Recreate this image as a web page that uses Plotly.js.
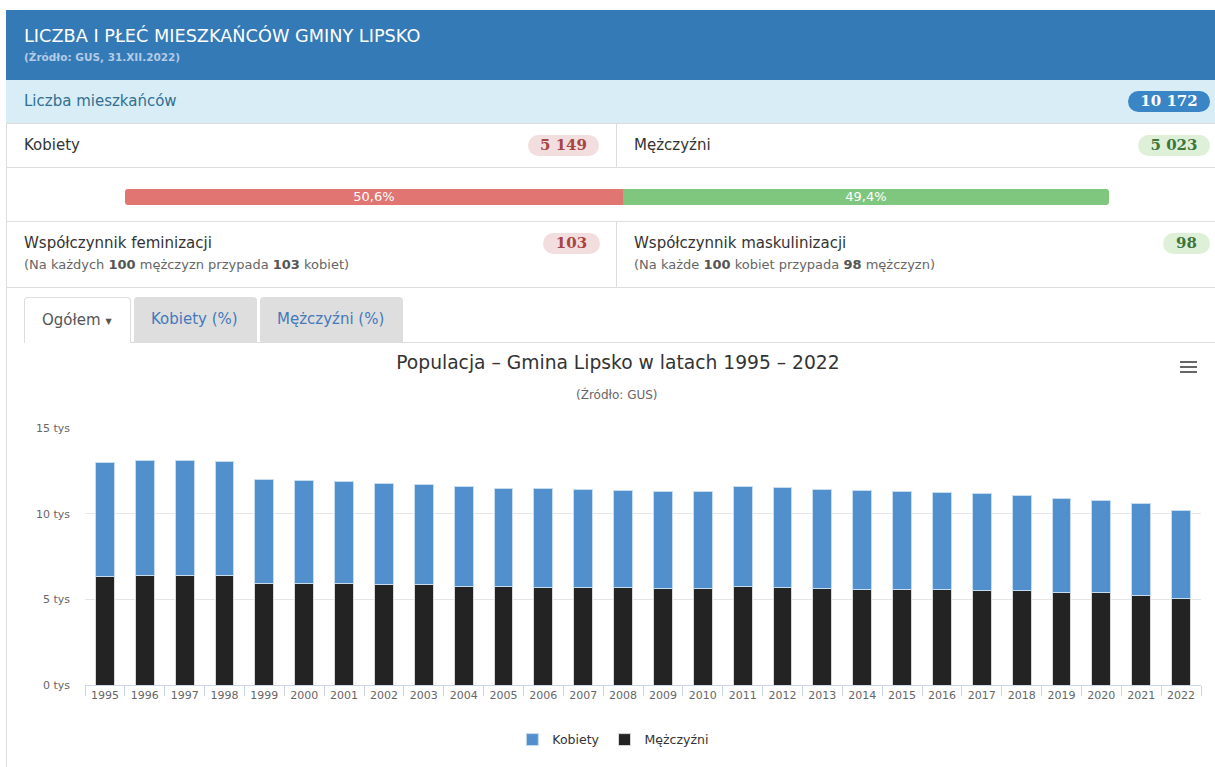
<!DOCTYPE html>
<html><head><meta charset="utf-8">
<script src="https://cdn.plot.ly/plotly-3.0.1.min.js"></script>
<style>
html,body{margin:0;padding:0;width:1215px;height:767px;overflow:hidden;background:#fff;font-family:"DejaVu Sans",sans-serif;}
.abs{position:absolute;}
.hdr{left:6px;top:10px;width:1215px;height:70px;background:#337ab7;}
.t1{left:24px;top:26px;color:#fff;font-size:17.7px;white-space:nowrap;}
.t2{left:24px;top:51px;color:#b3cbe5;font-size:10.5px;font-weight:bold;white-space:nowrap;}
.row{left:6px;width:1215px;border-bottom:1px solid #ddd;box-sizing:border-box;}
.txt{font-size:15px;color:#333;white-space:nowrap;}
.badge{font-family:"DejaVu Serif","Liberation Serif",serif;font-weight:bold;font-size:15px;border-radius:11px;text-align:center;line-height:21px;height:21px;}
.small{font-size:13px;color:#666;white-space:nowrap;}
.small b{color:#555;}
.tab{top:297px;height:45px;box-sizing:border-box;border-radius:4px 4px 0 0;font-size:15px;line-height:45px;padding-left:17px;white-space:nowrap;}
</style></head>
<body>
<div class="abs" style="left:6px;top:10px;width:1px;height:757px;background:#ddd;"></div>
<div class="abs hdr"></div>
<div class="abs t1">LICZBA I PŁEĆ MIESZKAŃCÓW GMINY LIPSKO</div>
<div class="abs t2">(Źródło: GUS, 31.XII.2022)</div>

<div class="abs row" style="top:80px;height:44px;background:#d9edf7;"></div>
<div class="abs txt" style="left:24px;top:92px;color:#31708f;">Liczba mieszkańców</div>
<div class="abs badge" style="left:1128px;top:91px;width:82px;background:#3a85c6;color:#fff;">10 172</div>

<div class="abs row" style="top:124px;height:44px;"></div>
<div class="abs" style="left:616px;top:124px;width:1px;height:43px;background:#ddd;"></div>
<div class="abs txt" style="left:24px;top:136px;">Kobiety</div>
<div class="abs badge" style="left:528px;top:135px;width:71px;background:#f2dede;color:#a94442;">5 149</div>
<div class="abs txt" style="left:634px;top:136px;">Mężczyźni</div>
<div class="abs badge" style="left:1138px;top:135px;width:72px;background:#dff0d8;color:#3c763d;">5 023</div>

<div class="abs row" style="top:168px;height:54px;"></div>
<div class="abs" style="left:125px;top:189px;width:984px;height:16px;border-radius:3px;overflow:hidden;display:flex;font-size:13px;color:#fff;line-height:16px;">
  <div style="width:50.6%;background:#e17572;text-align:center;">50,6%</div>
  <div style="width:49.4%;background:#7fc77f;text-align:center;">49,4%</div>
</div>

<div class="abs row" style="top:222px;height:66px;"></div>
<div class="abs" style="left:616px;top:222px;width:1px;height:65px;background:#ddd;"></div>
<div class="abs txt" style="left:24px;top:234px;">Współczynnik feminizacji</div>
<div class="abs small" style="left:24px;top:257px;">(Na każdych <b>100</b> mężczyzn przypada <b>103</b> kobiet)</div>
<div class="abs badge" style="left:543px;top:233px;width:57px;background:#f2dede;color:#a94442;">103</div>
<div class="abs txt" style="left:634px;top:234px;">Współczynnik maskulinizacji</div>
<div class="abs small" style="left:634px;top:257px;">(Na każde <b>100</b> kobiet przypada <b>98</b> mężczyzn)</div>
<div class="abs badge" style="left:1163px;top:233px;width:47px;background:#dff0d8;color:#3c763d;">98</div>

<div class="abs" style="left:24px;top:342px;width:1191px;height:1px;background:#ddd;"></div>
<div class="abs tab" style="left:24px;width:107px;height:46px;background:#fff;border:1px solid #ddd;border-bottom:none;color:#555;">Ogółem <span style="font-size:8px;vertical-align:1px;">&#9660;</span></div>
<div class="abs tab" style="left:134px;width:123px;background:#dedede;color:#4479bb;">Kobiety (%)</div>
<div class="abs tab" style="left:260px;width:143px;background:#dedede;color:#4479bb;">Mężczyźni (%)</div>

<div id="chart" class="abs" style="left:0;top:343px;width:1215px;height:424px;"></div>
<div class="abs" style="left:1180px;top:361px;width:17px;">
  <div style="height:2px;background:#666;margin-bottom:3px;"></div>
  <div style="height:2px;background:#666;margin-bottom:3px;"></div>
  <div style="height:2px;background:#666;"></div>
</div>

<script>
const years = ["1995","1996","1997","1998","1999","2000","2001","2002","2003","2004","2005","2006","2007","2008","2009","2010","2011","2012","2013","2014","2015","2016","2017","2018","2019","2020","2021","2022"];
const kobiety = [6650,6710,6710,6650,6080,6020,5960,5910,5850,5850,5740,5800,5740,5680,5670,5670,5850,5860,5790,5790,5730,5680,5660,5540,5520,5410,5340,5149];
const mezczyzni = [6310,6370,6370,6370,5930,5930,5930,5870,5870,5730,5730,5670,5670,5670,5620,5620,5730,5670,5620,5560,5560,5560,5500,5500,5380,5380,5250,5023];
const yTickVals = [0,5000,10000,15000];
const yTickText = ["0 tys","5 tys","10 tys","15 tys"];

const F = "DejaVu Sans, sans-serif";
const traces = [
  {type:"bar", name:"Mężczyźni", x:years, y:mezczyzni,
   marker:{color:"#232323", line:{color:"#d8d8d8", width:1}}},
  {type:"bar", name:"Kobiety", x:years, y:kobiety,
   marker:{color:"#5290cd", line:{color:"#c8dcf0", width:1}}}
];
const layout = {
  width:1215, height:424,
  margin:{l:85, r:14, t:85, b:82},
  paper_bgcolor:"rgba(0,0,0,0)", plot_bgcolor:"#fff",
  barmode:"stack", bargap:0.53,
  font:{family:F, color:"#666", size:11},
  title:{text:"Populacja – Gmina Lipsko w latach 1995 – 2022", font:{family:F, size:18.7, color:"#333"},
         xref:"container", x:0.5086, xanchor:"center", yref:"container", y:0.955, yanchor:"middle"},
  annotations:[{text:"(Źródło: GUS)", xref:"paper", yref:"paper", x:0.4767, y:1.132, xanchor:"center", yanchor:"middle",
                showarrow:false, font:{family:F, size:12, color:"#666"}}],
  xaxis:{type:"category", tickson:"boundaries", ticks:"outside", ticklen:10, tickcolor:"#ccd6eb",
         showline:true, linecolor:"#ccd6eb", linewidth:1, showgrid:false, tickfont:{size:11, color:"#666"}, fixedrange:true},
  yaxis:{range:[0,15000], tickvals:yTickVals, ticktext:yTickText, showgrid:true, gridcolor:"#e6e6e6",
         zeroline:false, showline:false, ticks:"", ticklabelstandoff:14, tickfont:{size:11, color:"#666"}, fixedrange:true},
  legend:{orientation:"h", x:0.4734, xanchor:"center", y:-0.214, yanchor:"middle", traceorder:"reversed",
          font:{size:12.5, color:"#333"}, itemwidth:30},
  showlegend:true
};
Plotly.newPlot("chart", traces, layout, {displayModeBar:false, staticPlot:true});
</script>
</body></html>
